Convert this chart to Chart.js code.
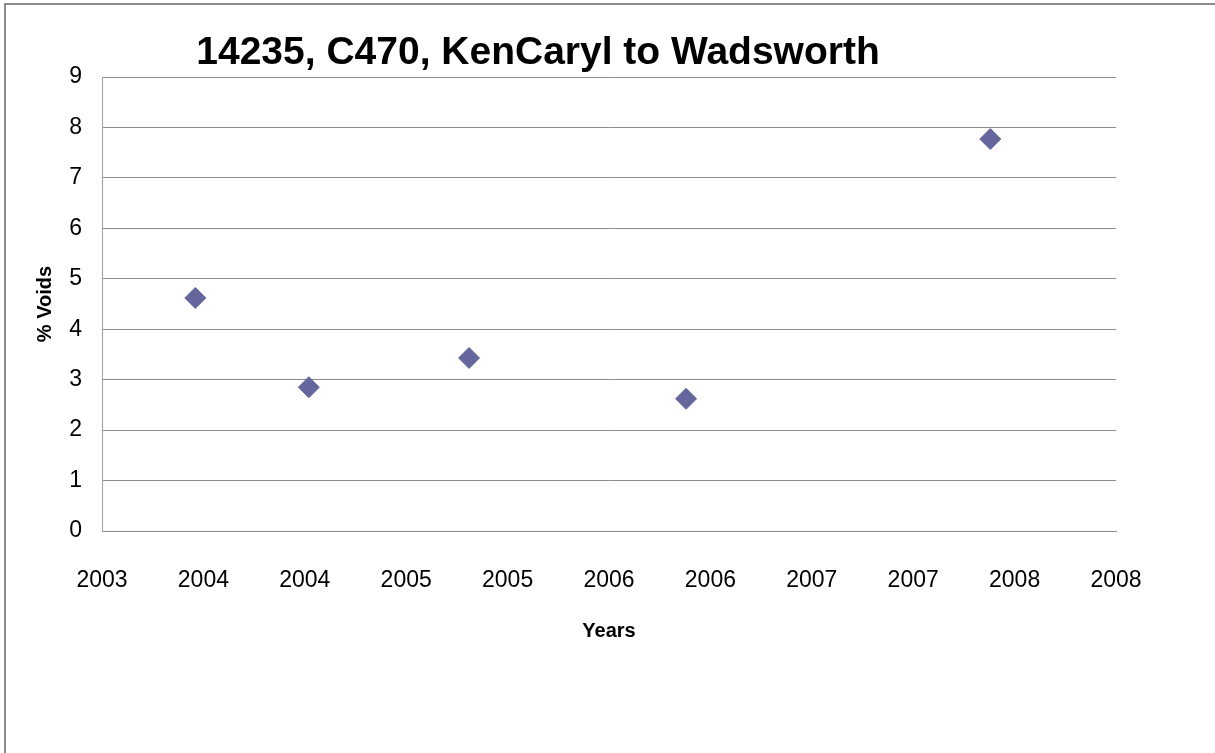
<!DOCTYPE html>
<html>
<head>
<meta charset="utf-8">
<title>14235, C470, KenCaryl to Wadsworth</title>
<script src="https://cdn.jsdelivr.net/npm/chart.js@4/dist/chart.umd.min.js"></script>
<style>
  html, body { margin: 0; padding: 0; background: #fff; overflow: hidden; }
  #wrap { position: absolute; left: 0; top: 0; width: 1215px; height: 753px; }
  #frame { position: absolute; left: 4px; top: 3px; width: 2000px; height: 2000px;
           border-left: 2px solid #8c8c8c; border-top: 2px solid #8c8c8c; pointer-events: none; }
</style>
</head>
<body>
<div id="wrap"><canvas id="voidsChart"></canvas></div>
<div id="frame"></div>
<script>
// chart data
const chartTitle = '14235, C470, KenCaryl to Wadsworth';
const years = [2003.46, 2004.02, 2004.81, 2005.88, 2007.38];
const voids = [4.62, 2.85, 3.43, 2.62, 7.77];
const xTickLabels = ['2003', '2004', '2004', '2005', '2005', '2006', '2006', '2007', '2007', '2008', '2008'];

const pts = years.map((y, i) => ({ x: y, y: voids[i] }));

// title is placed by hand, Excel had it moved off centre
const titlePlugin = {
  id: 'handTitle',
  afterDraw(chart) {
    const ctx = chart.ctx;
    ctx.save();
    ctx.font = 'bold 39px "Liberation Sans"';
    ctx.fillStyle = '#000';
    ctx.textAlign = 'center';
    ctx.textBaseline = 'alphabetic';
    ctx.fillText(chartTitle, 538, 64);
    ctx.restore();
  }
};

const vc = document.getElementById('voidsChart');

new Chart(vc, {
  type: 'scatter',
  data: {
    datasets: [{
      label: '% Voids',
      data: pts,
      pointStyle: 'rectRot',
      pointRadius: 10.5,
      pointHoverRadius: 10.5,
      backgroundColor: '#65669c',
      borderColor: '#65669c',
      borderWidth: 1
    }]
  },
  options: {
    responsive: true,
    maintainAspectRatio: false,
    animation: false,
    layout: { padding: { left: 0, top: 77, right: 99, bottom: 0 } },
    plugins: {
      legend: { display: false },
      tooltip: { enabled: false }
    },
    scales: {
      x: {
        type: 'linear',
        min: 2003,
        max: 2008,
        afterFit: (s) => { s.height = 222; },
        ticks: {
          stepSize: 0.5,
          padding: 36,
          color: '#000',
          font: { family: '"Liberation Sans"', size: 23 },
          callback: (v, i) => xTickLabels[i]
        },
        grid: { display: false, drawTicks: false },
        border: { display: true, color: '#8c8c8c', width: 1 },
        title: {
          display: true,
          text: 'Years',
          color: '#000',
          font: { family: '"Liberation Sans"', size: 20, weight: 'bold' },
          padding: { top: 0, bottom: 110 }
        }
      },
      y: {
        min: 0,
        max: 9,
        afterFit: (s) => { s.width = 102; },
        ticks: {
          stepSize: 1,
          padding: 20,
          color: '#000',
          font: { family: '"Liberation Sans"', size: 23 }
        },
        grid: { color: '#8c8c8c', lineWidth: 1, drawTicks: false },
        border: { display: true, color: '#a0a0a0', width: 1 },
        title: {
          display: true,
          text: '% Voids',
          color: '#000',
          font: { family: '"Liberation Sans"', size: 20, weight: 'bold' },
          padding: { top: 33, bottom: 0 }
        }
      }
    }
  },
  plugins: [titlePlugin]
});
</script>
</body>
</html>
